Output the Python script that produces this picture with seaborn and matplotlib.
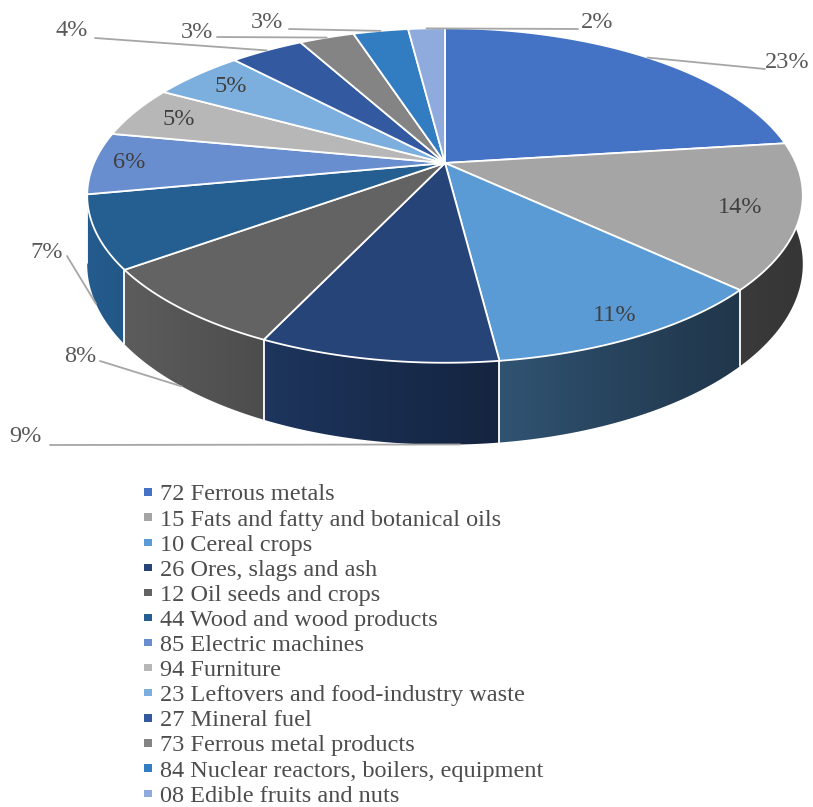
import numpy as np
import matplotlib
matplotlib.use('Agg')
import matplotlib.pyplot as plt
from matplotlib.patches import Polygon
import seaborn as sns

# data
categories = ['72 Ferrous metals', '15 Fats and fatty and botanical oils',
              '10 Cereal crops', '26 Ores, slags and ash',
              '12 Oil seeds and crops', '44 Wood and wood products',
              '85 Electric machines', '94 Furniture',
              '23 Leftovers and food-industry waste', '27 Mineral fuel',
              '73 Ferrous metal products',
              '84 Nuclear reactors, boilers, equipment',
              '08 Edible fruits and nuts']
shares = [23, 14, 11, 9, 8, 7, 6, 5, 5, 4, 3, 3, 2]
colors = ['#4472C4', '#A5A5A5', '#5B9BD5', '#264478', '#636363', '#255E91',
          '#698ED0', '#B7B7B7', '#7CAFDD', '#335AA1', '#848484', '#327DC2',
          '#8FAADC']

# geometry of the tilted pie (pixel space)
CX, CY = 445, 163
AX_R, AY_R = 351, 161
K = 0.194
DEPTH = 66

# label layout
inside_r = {1: 0.84, 2: 0.9, 6: 0.9, 7: 0.85, 8: 0.85}
label_xy = {0: (787, 62), 3: (25, 437), 4: (80, 356), 5: (47, 252),
            9: (72, 31), 10: (197, 33), 11: (267, 22), 12: (597, 22)}
leader_start = {0: (765, 69), 3: (50, 445), 4: (100, 361), 5: (67, 256),
                9: (95, 38), 10: (217, 37), 11: (289, 29), 12: (578, 29)}
wall_anchor = {3: 178, 4: None, 5: None}


def project(theta, r=1.0, drop=0.0):
    t = np.deg2rad(theta)
    u = r * np.sin(t)
    v = -r * np.cos(t)
    den = 1 - K * v
    return CX + AX_R * u / den, CY + AY_R * v / den + drop / den


sns.set_theme(style='white')
plt.rcParams['font.family'] = ['Liberation Serif', 'DejaVu Serif']
palette = sns.color_palette(colors)

fig = plt.figure(figsize=(8.13, 8.07), dpi=100)
ax = fig.add_axes([0, 0, 1, 1])
ax.set_xlim(0, 813)
ax.set_ylim(807, 0)
ax.axis('off')

bounds = np.concatenate([[0], np.cumsum(shares)]) / sum(shares) * 360

# side walls with a left-to-right shading, back slices first
order = sorted(range(len(shares)),
               key=lambda j: -np.cos(np.deg2rad((bounds[j] + bounds[j + 1]) / 2)))
for i in order:
    ang = np.linspace(bounds[i], bounds[i + 1], 120)
    tx, ty = project(ang)
    bx, by = project(ang[::-1], drop=DEPTH)
    pts = np.column_stack([np.concatenate([tx, bx]), np.concatenate([ty, by])])
    poly = Polygon(pts, closed=True, facecolor='none', edgecolor='none')
    ax.add_patch(poly)
    x0, x1 = pts[:, 0].min() - 2, pts[:, 0].max() + 2
    y0, y1 = pts[:, 1].min() - 2, pts[:, 1].max() + 2
    xs = np.linspace(x0, x1, 200)
    f = 0.33 + 0.26 * (1 - np.clip((xs - CX) / AX_R, -1, 1)) ** 1.3
    grad = np.clip(np.array(palette[i])[None, :] * f[:, None], 0, 1)
    img = np.repeat(grad[None, :, :], 2, axis=0)
    im = ax.imshow(img, extent=(x0, x1, y1, y0), aspect='auto',
                   interpolation='bilinear', zorder=1)
    im.set_clip_path(poly)

# white seams on the front wall
for b in bounds[1:-1]:
    if -np.cos(np.deg2rad(b)) > 0.15:
        xa, ya = project(b)
        xb, yb = project(b, drop=DEPTH)
        ax.plot([xa, xb], [ya, yb], color='white', lw=1.3, zorder=2)

# top faces
for i in range(len(shares)):
    ang = np.linspace(bounds[i], bounds[i + 1], 120)
    tx, ty = project(ang)
    ax.fill(np.concatenate([[CX], tx]), np.concatenate([[CY], ty]),
            facecolor=palette[i], edgecolor='white', lw=1.3, zorder=3)

# percentage labels
for i, val in enumerate(shares):
    mid = (bounds[i] + bounds[i + 1]) / 2
    txt = '{0}%'.format(val)
    if i in inside_r:
        x, y = project(mid, r=inside_r[i])
        ax.text(x, y, txt, ha='center', va='center', fontsize=17.5,
                color='#404040', zorder=5)
    else:
        lx, ly = label_xy[i]
        ax.text(lx, ly, txt, ha='center', va='center', fontsize=17.5,
                color='#595959', zorder=5)
        if i in wall_anchor:
            a = wall_anchor[i] if wall_anchor[i] is not None else mid
            px, py = project(a, drop=DEPTH)
        else:
            px, py = project(mid)
        sx, sy = leader_start[i]
        ax.plot([sx, px], [sy, py], color='#A6A6A6', lw=1.3, zorder=4)

# legend below the pie
leg_y = 492 + 25.1 * np.arange(len(categories))
sns.scatterplot(x=np.full(len(categories), 148.0), y=leg_y, hue=categories,
                palette=palette, marker='s', s=28, linewidth=0,
                legend=False, ax=ax, zorder=5)
for name, y in zip(categories, leg_y):
    ax.text(160, y + 3, name, ha='left', va='center', fontsize=17.5,
            color='#4d4d4d')

ax.set_xlim(0, 813)
ax.set_ylim(807, 0)
plt.savefig('out.png', dpi=100)
